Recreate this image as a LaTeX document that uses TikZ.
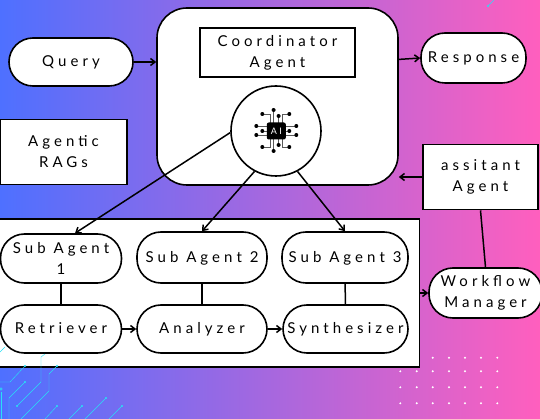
\documentclass[tikz,border=0pt]{standalone}
\usepackage{fontspec}
\setmainfont[LetterSpace=27]{Lato}
\usetikzlibrary{arrows.meta}
\definecolor{bgleft}{RGB}{78,112,255}
\definecolor{bgmid}{RGB}{172,100,220}
\definecolor{bgright}{RGB}{255,95,190}
\definecolor{wire}{RGB}{40,225,245}
\tikzset{
	box/.style={draw=black, fill=white, line width=1.6pt, inner sep=0pt, align=center, font=\fontsize{15}{21}\selectfont},
	pill/.style={box, rounded corners=24pt},
	oneline/.style={text height=11pt, text depth=2pt},
	link/.style={line width=1.5pt, draw=black},
	flow/.style={link, -{Straight Barb[length=4.5pt,width=7pt]}},
	trace/.style={draw=wire, line width=0.45pt},
	pin/.style={draw=black!65, line width=0.6pt}
}
\begin{document}
\begin{tikzpicture}[x=1pt,y=-1pt]
	\useasboundingbox (0,0) rectangle (540,419);
	% background
	\shade [left color=bgleft, middle color=bgmid, right color=bgright] (0,0) rectangle (540,419);

	% top row
	\node [pill, oneline, minimum width=124pt, minimum height=48pt] (query) at (71,62) {Query};
	\node [box, rounded corners=30pt, minimum width=241pt, minimum height=177pt] (coord) at (277.5,96.5) {};
	\node [box, minimum width=155pt, minimum height=49pt] (title) at (277.5,52.5) {Coordinator\\Agent};
	\node [box, circle, minimum size=90pt] (core) at (276,131) {};
	\node [pill, oneline, minimum width=105pt, minimum height=50pt] (response) at (473.5,58) {Response};
	\node [box, minimum width=127pt, minimum height=65pt] (rags) at (63.5,152) {Agentic\\RAGs};
	\node [box, minimum width=115pt, minimum height=65pt] (assist) at (480.5,177) {assitant\\Agent};

	% chip
	\begin{scope}[shift={(276.3,131)}]
		\foreach \dx/\dy/\sx/\sy in {-14/-17/-6/-8, -2.7/-21/-2.7/-8, 2.3/-15/2.3/-8, 13/-17/6/-8,
			-14/16/-6/8, -2.7/20/-2.7/8, 2.3/14/2.3/8, 13/16/6/8}
			\draw [pin] (\sx,\sy) |- (\dx,\dy);
		\foreach \dx/\dy/\sx/\sy in {-20/-5/-9/-5, -14/0/-9/0, -20/4/-9/4, 20/-5/9/-5, 13/0/9/0, 20/4/9/4}
			\draw [pin] (\sx,\sy) -- (\dx,\dy);
		\foreach \dx/\dy in {-14/-17, -2.7/-21, 2.3/-15, 13/-17, -14/16, -2.7/20, 2.3/14, 13/16,
			-20/-5, -14/0, -20/4, 20/-5, 13/0, 20/4}
			\fill (\dx,\dy) circle (2pt);
		\node [fill=black, rounded corners=2pt, minimum width=19pt, minimum height=17pt, inner sep=0pt, text=white, font=\fontsize{9}{9}\selectfont] (chip) at (0,0) {AI};
	\end{scope}

	% lower panel
	\node [box, minimum width=421pt, minimum height=148pt] (panel) at (209,293) {};
	\node [pill, minimum width=121pt, minimum height=49pt] (sub1) at (61,258.5) {Sub Agent\\1};
	\node [pill, oneline, minimum width=130pt, minimum height=51pt] (sub2) at (202,257.5) {Sub Agent 2};
	\node [pill, oneline, minimum width=126pt, minimum height=51pt] (sub3) at (345,257.5) {Sub Agent 3};
	\node [pill, oneline, minimum width=121pt, minimum height=48pt] (retr) at (61,329) {Retriever};
	\node [pill, oneline, minimum width=130pt, minimum height=48pt] (anal) at (202,329) {Analyzer};
	\node [pill, oneline, minimum width=125pt, minimum height=48pt] (synth) at (345.5,329) {Synthesizer};
	\node [pill, minimum width=113pt, minimum height=50pt] (manager) at (485.5,293) {Workflow\\Manager};

	% connectors
	\draw [flow] (query.east) -- (query.east -| coord.west);
	\draw [flow] (coord.17) -- (response.west);
	\draw [flow] (assist.west) -- (assist.west -| coord.east);
	\draw [flow] (core.182) -- (sub1.61);
	\draw [flow] (core.242) -- (sub2.north);
	\draw [flow] (core.298) -- (sub3.north);
	\draw [link] (sub1) -- (retr);
	\draw [link] (sub2) -- (anal);
	\draw [link] (sub3) -- (synth);
	\draw [flow] (retr) -- (anal);
	\draw [flow] (anal) -- (synth);
	\draw [flow] (panel.east) -- (manager.west);
	\draw [link] (assist.south) -- (manager.north);

	% white dots
	\foreach \y in {371.3,387.3,403.3}
		\foreach \x in {400.3,416.7,432.7,449,465,481,497.3}
			\fill [white] (\x,\y) circle (1.1pt);
	\foreach \x in {432.7,449,465,481,497.3}
		\fill [white] (\x,357.7) circle (1.1pt);

	% cyan traces
	\draw [trace] (25,366) -- (10,382) -- (0,382);
	\draw [trace] (57,366) -- (49,374) -- (49,391) -- (21,419);
	\draw [trace] (17,406) -- (41,382) -- (41,357) -- (45,354);
	\draw [trace] (25,382) -- (9,398) -- (9,419);
	\draw [trace] (57,406) -- (45,419);
	\draw [trace] (82,406) -- (69,419);
	\draw [trace] (106,398) -- (85,419);
	\draw [trace] (122,406) -- (109,419);
	\draw [trace] (0,352) -- (5,347);
	\draw [trace] (1,392) -- (1,419);
	\draw [trace] (1,389) circle (1.2pt);
	\draw [trace] (488,6) -- (494,0);
	\foreach \x/\y in {25/366, 57/366, 17/406, 25/382, 57/406, 82/406, 106/398, 122/406, 488/6}
		\fill [wire] (\x,\y) circle (1.2pt);
\end{tikzpicture}
\end{document}
